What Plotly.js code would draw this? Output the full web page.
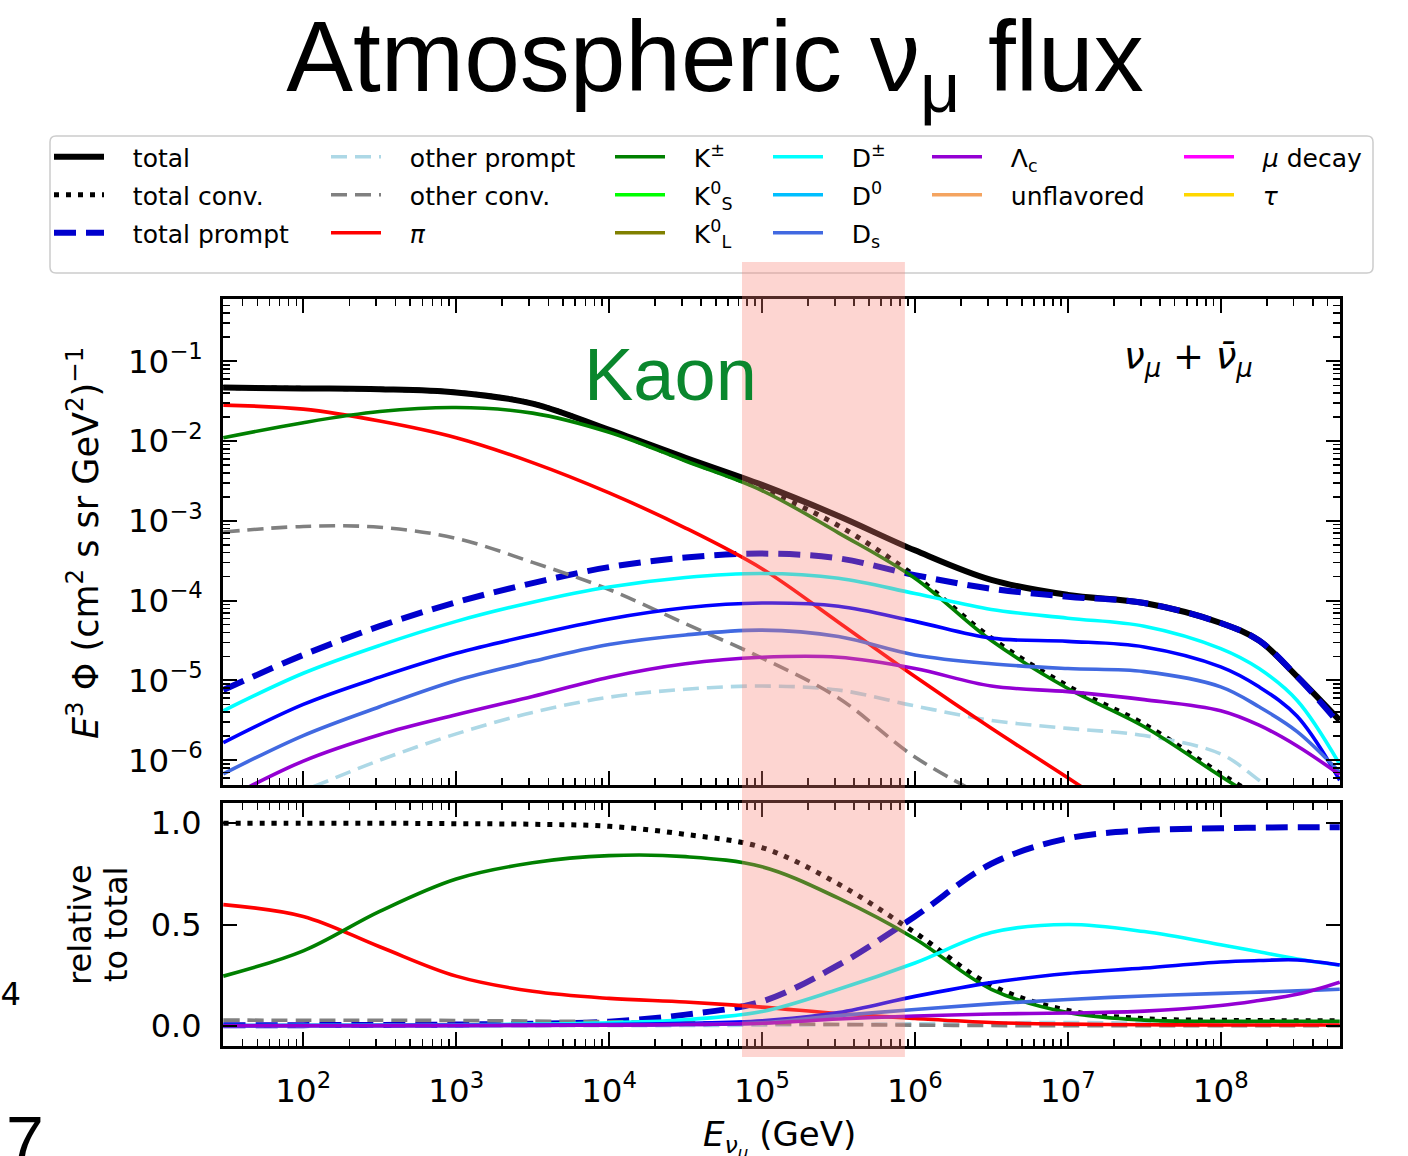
<!DOCTYPE html>
<html><head><meta charset="utf-8">
<script src="https://cdn.plot.ly/plotly-3.0.1.min.js"></script>
<style>html,body{margin:0;padding:0;background:#fff}</style>
</head><body><div id="chart" style="width:1408px;height:1156px"></div>
<script>
// ---- data (GeV) ----
const energy = [30, 100, 316, 1000, 3160, 1e4, 3.16e4, 1e5, 3.16e5, 1e6, 3.16e6, 1e7, 3.16e7, 1e8, 1.78e8, 3.16e8, 6e8];

// E^3 flux, (cm^2 s sr GeV^2)^-1
const fluxTotal = [0.0468, 0.0457, 0.0447, 0.0407, 0.0295, 0.0138, 0.00617, 0.00282, 0.00115, 4.27e-4, 1.82e-4, 1.18e-4, 9.33e-5, 5.25e-5, 3.16e-5, 1.12e-5, 3.16e-6];
const fluxConv = [0.0468, 0.0457, 0.0447, 0.0407, 0.0295, 0.0136, 0.00582, 0.00251, 8.71e-4, 2.04e-4, 3.39e-5, 8.51e-6, 2.82e-6, 6.76e-7, 3.39e-7, 1.58e-7, 7.9e-8];
const fluxPrompt = [7.59e-6, 2.09e-5, 4.79e-5, 9.55e-5, 1.66e-4, 2.63e-4, 3.47e-4, 3.89e-4, 3.39e-4, 2.09e-4, 1.41e-4, 1.12e-4, 9.33e-5, 5.25e-5, 3.16e-5, 1.12e-5, 2.82e-6];
const fluxOtherPrompt = [1.78e-7, 4.17e-7, 1.0e-6, 2.14e-6, 3.98e-6, 6.17e-6, 7.76e-6, 8.51e-6, 7.59e-6, 4.79e-6, 3.16e-6, 2.51e-6, 2.04e-6, 1.20e-6, 5.62e-7, 2.51e-7];
const fluxOtherConv = [7.24e-4, 8.51e-4, 8.32e-4, 6.03e-4, 3.02e-4, 1.38e-4, 5.13e-5, 1.91e-5, 6.03e-6, 1.10e-6, 3.16e-7];
const fluxPi = [0.0282, 0.0251, 0.0178, 0.0110, 5.37e-3, 2.24e-3, 8.13e-4, 2.51e-4, 5.37e-5, 1.12e-5, 2.51e-6, 6.03e-7, 1.41e-7];
const fluxKpm = [0.0110, 0.0170, 0.0234, 0.0263, 0.0224, 0.0129, 5.62e-3, 2.40e-3, 7.08e-4, 1.91e-4, 3.16e-5, 7.94e-6, 2.63e-6, 6.31e-7, 3.16e-7];
const fluxDpm = [4.17e-6, 1.23e-5, 2.75e-5, 5.50e-5, 9.55e-5, 1.48e-4, 1.95e-4, 2.19e-4, 1.91e-4, 1.23e-4, 7.76e-5, 6.03e-5, 4.79e-5, 2.51e-5, 1.41e-5, 5.62e-6, 8.91e-7];
const fluxD0 = [1.66e-6, 5.01e-6, 1.10e-5, 2.19e-5, 3.72e-5, 5.89e-5, 8.13e-5, 9.33e-5, 8.51e-5, 5.50e-5, 3.39e-5, 3.09e-5, 2.63e-5, 1.48e-5, 8.32e-6, 3.55e-6, 5.62e-7];
const fluxDs = [6.76e-7, 2.04e-6, 4.68e-6, 1.00e-5, 1.74e-5, 2.82e-5, 3.72e-5, 4.27e-5, 3.55e-5, 2.09e-5, 1.62e-5, 1.41e-5, 1.29e-5, 8.32e-6, 4.68e-6, 2.29e-6, 7.08e-7];
const fluxLc = [3.16e-7, 9.77e-7, 2.09e-6, 3.72e-6, 6.31e-6, 1.10e-5, 1.62e-5, 1.95e-5, 1.95e-5, 1.41e-5, 8.51e-6, 7.24e-6, 5.75e-6, 4.17e-6, 2.75e-6, 1.51e-6, 6.61e-7];

// relative to total
const relConv = [1.0, 1.0, 1.0, 0.998, 0.995, 0.985, 0.945, 0.88, 0.70, 0.46, 0.20, 0.075, 0.035, 0.027, 0.026, 0.025, 0.025];
const relPrompt = [0.002, 0.003, 0.004, 0.006, 0.01, 0.02, 0.055, 0.12, 0.30, 0.54, 0.80, 0.925, 0.965, 0.975, 0.978, 0.98, 0.98];
const relOtherPrompt = [0, 0, 0, 0, 0.0003, 0.0005, 0.001, 0.003, 0.006, 0.01, 0.014, 0.016, 0.012, 0.008, 0.006, 0.005, 0.004];
const relOtherConv = [0.028, 0.027, 0.027, 0.026, 0.023, 0.02, 0.016, 0.011, 0.006, 0.003, 0.001, 0.0, 0.0, 0.0, 0.0, 0.0, 0.0];
const relPi = [0.598, 0.54, 0.39, 0.245, 0.17, 0.135, 0.117, 0.092, 0.06, 0.036, 0.016, 0.008, 0.005, 0.004, 0.004, 0.004, 0.004];
const relKpm = [0.245, 0.37, 0.565, 0.725, 0.805, 0.84, 0.835, 0.785, 0.63, 0.43, 0.18, 0.065, 0.028, 0.022, 0.022, 0.022, 0.022];
const relDpm = [0.001, 0.002, 0.003, 0.005, 0.008, 0.015, 0.03, 0.07, 0.18, 0.31, 0.46, 0.50, 0.465, 0.40, 0.365, 0.33, 0.30];
const relD0 = [0.0005, 0.001, 0.0015, 0.002, 0.003, 0.006, 0.012, 0.025, 0.065, 0.145, 0.213, 0.258, 0.285, 0.315, 0.322, 0.325, 0.30];
const relDs = [0.0, 0.0005, 0.0007, 0.001, 0.002, 0.003, 0.006, 0.014, 0.05, 0.08, 0.108, 0.13, 0.147, 0.16, 0.166, 0.172, 0.18];
const relLc = [0.0, 0.0, 0.0005, 0.001, 0.002, 0.003, 0.006, 0.012, 0.033, 0.048, 0.058, 0.063, 0.072, 0.10, 0.125, 0.155, 0.215];

const relTicks = [0.0, 0.5, 1.0];

// ---- traces ----
const W = 3.6;
const GAP = '\u00A0\u00A0\u00A0';
function tr(name, y, color, width, dash, panel, legend, showlegend, group) {
  return {
    type: 'scatter', mode: 'lines', name: GAP + name,
    x: energy.slice(0, y.length), y: y,
    line: {color: color, width: width, dash: dash || 'solid', shape: 'spline', smoothing: 1},
    xaxis: panel === 2 ? 'x2' : 'x', yaxis: panel === 2 ? 'y2' : 'y',
    legend: legend, showlegend: showlegend, legendgroup: group, hoverinfo: 'skip'
  };
}
function legendOnly(name, color, legend, group) {
  return {type: 'scatter', mode: 'lines', name: GAP + name, x: [null], y: [null],
    line: {color: color, width: W}, xaxis: 'x', yaxis: 'y', legend: legend, legendgroup: group, showlegend: true, hoverinfo: 'skip'};
}
const PROMPT_DASH = '22px,10px', DOT = '5px,7px', DASH = '16px,8px';

const data = [
  tr('total', fluxTotal, 'black', 6, 'solid', 1, 'legend', true, 'g1'),
  tr('total conv.', fluxConv, 'black', 5, DOT, 1, 'legend', true, 'g2'),
  tr('total prompt', fluxPrompt, '#0000CD', 6, PROMPT_DASH, 1, 'legend', true, 'g3'),
  tr('other prompt', fluxOtherPrompt, '#ADD8E6', W, DASH, 1, 'legend2', true, 'g4'),
  tr('other conv.', fluxOtherConv, '#808080', W, DASH, 1, 'legend2', true, 'g5'),
  tr('<i>π</i>', fluxPi, '#FF0000', W, 'solid', 1, 'legend2', true, 'g6'),
  tr('K<sup>±</sup>', fluxKpm, '#008000', W, 'solid', 1, 'legend3', true, 'g7'),
  legendOnly('K<sup>0</sup><sub>S</sub>', '#00FF00', 'legend3', 'g8'),
  legendOnly('K<sup>0</sup><sub>L</sub>', '#808000', 'legend3', 'g9'),
  tr('D<sup>±</sup>', fluxDpm, '#00FFFF', W, 'solid', 1, 'legend4', true, 'g10'),
  legendOnly('D<sup>0</sup>', '#00BFFF', 'legend4', 'g11'),
  tr('D<sup>0</sup>', fluxD0, '#0000FF', W, 'solid', 1, 'legend4', false, 'g11'),
  tr('D<sub>s</sub>', fluxDs, '#4169E1', W, 'solid', 1, 'legend4', true, 'g12'),
  tr('Λ<sub>c</sub>', fluxLc, '#9400D3', W, 'solid', 1, 'legend5', true, 'g13'),
  legendOnly('unflavored', '#F4A460', 'legend5', 'g14'),
  legendOnly('<i>μ</i> decay', '#FF00FF', 'legend6', 'g15'),
  legendOnly('<i>τ</i>', '#FFD700', 'legend6', 'g16'),
  // bottom panel
  tr('total conv.', relConv, 'black', 5, DOT, 2, 'legend', false, 'g2'),
  tr('total prompt', relPrompt, '#0000CD', 6, PROMPT_DASH, 2, 'legend', false, 'g3'),
  tr('other prompt', relOtherPrompt, '#ADD8E6', W, DASH, 2, 'legend2', false, 'g4'),
  tr('other conv.', relOtherConv, '#808080', W, DASH, 2, 'legend2', false, 'g5'),
  tr('π', relPi, '#FF0000', W, 'solid', 2, 'legend2', false, 'g6'),
  tr('K±', relKpm, '#008000', W, 'solid', 2, 'legend3', false, 'g7'),
  tr('D±', relDpm, '#00FFFF', W, 'solid', 2, 'legend4', false, 'g10'),
  tr('D0', relD0, '#0000FF', W, 'solid', 2, 'legend4', false, 'g11'),
  tr('Ds', relDs, '#4169E1', W, 'solid', 2, 'legend4', false, 'g12'),
  tr('Λc', relLc, '#9400D3', W, 'solid', 2, 'legend5', false, 'g13')
];

// ---- layout ----
const PL = 223, PR = 1340, PT = 299, PB = 1046;
const px2x = p => (p - PL) / (PR - PL);
const py2y = p => (PB - p) / (PB - PT);
const FONT = 'DejaVu Sans';
const axBase = {showline: true, linewidth: 3, linecolor: 'black', mirror: 'allticks', ticks: 'inside',
  ticklen: 14, tickwidth: 2, tickcolor: 'black', showgrid: false, zeroline: false,
  tickfont: {family: FONT, size: 26, color: 'black'}};
const minorLog = {ticks: 'inside', ticklen: 7, tickwidth: 1.5, tickcolor: 'black', dtick: 'D1', showgrid: false};

function legendCol(textX) {
  return {x: px2x(textX - 82), y: py2y(134), xref: 'paper', yref: 'paper', xanchor: 'left', yanchor: 'top',
    bgcolor: 'rgba(0,0,0,0)', borderwidth: 0, font: {family: FONT, size: 25, color: 'black'},
    traceorder: 'grouped', tracegroupgap: 2.5, itemwidth: 50, itemclick: false, itemdoubleclick: false};
}

// rounded legend frame
const fx0 = px2x(50), fx1 = px2x(1373), fy0 = py2y(273), fy1 = py2y(136);
const rx = 6 / (PR - PL), ry = 6 / (PB - PT);
const framePath = `M ${fx0 + rx},${fy1} L ${fx1 - rx},${fy1} Q ${fx1},${fy1} ${fx1},${fy1 - ry} L ${fx1},${fy0 + ry} Q ${fx1},${fy0} ${fx1 - rx},${fy0} L ${fx0 + rx},${fy0} Q ${fx0},${fy0} ${fx0},${fy0 + ry} L ${fx0},${fy1 - ry} Q ${fx0},${fy1} ${fx0 + rx},${fy1} Z`;

const layout = {
  width: 1408, height: 1156,
  margin: {l: PL, r: 1408 - PR, t: PT, b: 1156 - PB, pad: 0},
  paper_bgcolor: 'white', plot_bgcolor: 'white',
  font: {family: FONT, color: 'black'},
  title: {text: 'Atmospheric ν<sub>μ</sub> flux', font: {family: 'Liberation Sans, Arial', size: 100, color: 'black'},
    x: 715 / 1408, xanchor: 'center', xref: 'container', y: 0.982, yref: 'container', yanchor: 'top'},
  xaxis: Object.assign({}, axBase, {type: 'log', range: [1.475, 8.78], domain: [0, 1], anchor: 'y',
    showticklabels: false, dtick: 1, minor: minorLog}),
  yaxis: Object.assign({}, axBase, {type: 'log', range: [-6.31, -0.22], domain: [py2y(785), 1], anchor: 'x',
    dtick: 1, exponentformat: 'power', showexponent: 'all', ticklabelstandoff: 12, minor: minorLog}),
  xaxis2: Object.assign({}, axBase, {type: 'log', range: [1.475, 8.78], domain: [0, 1], anchor: 'y2', matches: 'x',
    dtick: 1, exponentformat: 'power', showexponent: 'all', ticklabelstandoff: 15, minor: minorLog}),
  yaxis2: Object.assign({}, axBase, {range: [-0.1, 1.1], domain: [0, py2y(803)], anchor: 'x2',
    tickvals: relTicks, tickformat: '.1f', ticklabelstandoff: 12, tickfont: {family: FONT, size: 32, color: 'black'}}),
  legend: legendCol(131),
  legend2: legendCol(408),
  legend3: legendCol(692),
  legend4: legendCol(850),
  legend5: legendCol(1009),
  legend6: legendCol(1261),
  shapes: [
    {type: 'path', path: framePath, xref: 'paper', yref: 'paper', line: {color: '#cccccc', width: 1.5},
      fillcolor: 'rgba(0,0,0,0)', layer: 'below'},
    {type: 'rect', xref: 'x', yref: 'paper', x0: 7.4e4, x1: 8.6e5, y0: py2y(1057), y1: py2y(262),
      fillcolor: 'rgba(250,128,114,0.33)', line: {width: 0}, layer: 'above'}
  ],
  annotations: [
    {text: 'Kaon', xref: 'paper', yref: 'paper', x: px2x(670), y: py2y(374), xanchor: 'center', yanchor: 'middle',
      showarrow: false, font: {family: 'Liberation Sans, Arial', size: 74, color: '#0a872d'}},
    {text: '<i>ν</i><sub><i>μ</i></sub> + <i>ν\u0304</i><sub><i>μ</i></sub>', xref: 'paper', yref: 'paper',
      x: px2x(1188), y: py2y(359), xanchor: 'center', yanchor: 'middle', showarrow: false,
      font: {family: FONT, size: 37, color: 'black'}},
    {text: '<i>E</i><sup>3</sup> Φ (cm<sup>2</sup> s sr GeV<sup>2</sup>)<sup>−1</sup>', xref: 'paper', yref: 'paper',
      x: px2x(83), y: py2y(543), xanchor: 'center', yanchor: 'middle', textangle: -90, showarrow: false,
      font: {family: FONT, size: 35, color: 'black'}},
    {text: 'relative', xref: 'paper', yref: 'paper', x: px2x(80), y: py2y(925), xanchor: 'center', yanchor: 'middle',
      textangle: -90, showarrow: false, font: {family: FONT, size: 32, color: 'black'}},
    {text: 'to total', xref: 'paper', yref: 'paper', x: px2x(116), y: py2y(925), xanchor: 'center', yanchor: 'middle',
      textangle: -90, showarrow: false, font: {family: FONT, size: 32, color: 'black'}},
    {text: '<i>E</i><sub><i>ν</i><sub><i>μ</i></sub></sub> (GeV)', xref: 'paper', yref: 'paper', x: px2x(779), y: py2y(1138),
      xanchor: 'center', yanchor: 'middle', showarrow: false, font: {family: FONT, size: 34, color: 'black'}},
    {text: '10<sup>4</sup>', xref: 'paper', yref: 'paper', x: px2x(23), y: py2y(1005), xanchor: 'right', yanchor: 'middle',
      showarrow: false, font: {family: FONT, size: 46, color: 'black'}},
    {text: '7', xref: 'paper', yref: 'paper', x: px2x(25), y: py2y(1100), xanchor: 'center', yanchor: 'top',
      showarrow: false, font: {family: 'Liberation Sans, Arial', size: 68, color: 'black'}}
  ]
};

Plotly.newPlot('chart', data, layout, {displayModeBar: false, staticPlot: true});
</script></body></html>
